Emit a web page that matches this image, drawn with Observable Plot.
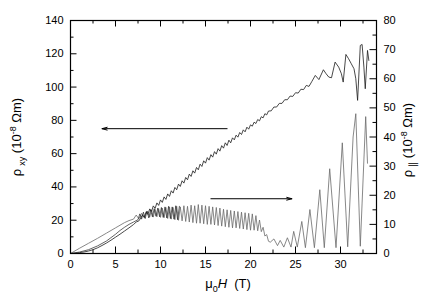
<!DOCTYPE html>
<html><head><meta charset="utf-8">
<script src="https://cdn.jsdelivr.net/npm/d3@7"></script>
<script src="https://cdn.jsdelivr.net/npm/@observablehq/plot@0.6"></script>
<style>body{margin:0;background:#fff;}</style>
</head><body><div id="chart"></div>
<script>
// ---- tick values ----
const xMajor = [0, 5, 10, 15, 20, 25, 30];
const xMinor = [2.5, 7.5, 12.5, 17.5, 22.5, 27.5, 32.5];
const yLeftMajor = [0, 20, 40, 60, 80, 100, 120, 140];
const yLeftMinor = [10, 30, 50, 70, 90, 110, 130];
const yRightMajor = [0, 10, 20, 30, 40, 50, 60, 70, 80];
const yRightMinor = [5, 15, 25, 35, 45, 55, 65, 75];

// ---- rho_xy (left axis, 1e-8 Ohm m) vs mu0 H (T) ----
const fieldXY = [0,0.5,1,1.5,2,2.5,3,3.5,4,4.5,5,5.5,6,6.5,7,7.3,7.6,7.8,
 8.0,8.2,8.4,8.6,8.8,9.0,9.2,9.4,9.6,9.8,10.0,10.2,10.4,10.6,10.8,11.0,11.2,11.4,11.6,11.8,
 12.0,12.2,12.4,12.6,12.8,13.0,13.2,13.4,13.6,13.8,14.0,14.2,14.4,14.6,14.8,15.0,15.2,15.4,15.6,15.8,
 16.0,16.2,16.4,16.6,16.8,17.0,17.2,17.4,17.6,17.8,18.0,18.2,18.4,18.6,18.8,19.0,19.2,19.4,19.6,19.8,
 20.0,20.2,20.4,20.6,20.8,21.0,21.2,21.4,21.6,21.8,22.0,
 22.3,22.6,22.9,23.2,23.5,23.8,24.1,24.4,24.7,25.0,25.3,25.6,25.9,26.2,26.5,26.8,
 27.2,27.6,28.1,28.4,28.7,29.0,29.4,29.8,30.1,30.3,30.6,30.9,31.2,31.5,31.7,31.9,32.2,32.4,32.6,32.75,33.0,33.15];
const rhoXY = [0,0.2,0.5,0.9,1.5,2.3,3.4,4.8,6.3,8.0,9.8,11.6,13.5,15.4,17.4,18.9,19.6,21.3,
 23.2,21.7,25.0,23.5,26.8,25.3,28.6,27.1,30.4,28.9,32.2,30.7,34.0,32.5,35.8,34.3,37.7,36.3,39.7,38.3,
 41.7,40.3,43.7,42.3,45.7,44.3,47.7,46.3,49.7,48.3,51.7,50.3,53.7,52.3,55.7,54.3,57.6,56.1,59.4,57.9,
 61.2,59.7,63.0,61.5,64.8,63.3,66.5,64.9,68.1,66.5,69.5,68.3,71.1,69.9,72.7,71.5,74.3,73.1,75.9,74.7,
 77.3,76.5,78.9,78.1,80.5,79.7,82.2,81.5,84.0,83.3,85.6,
 85.7,88.0,88.0,90.2,90.2,92.4,92.4,94.6,94.4,96.6,96.4,98.7,98.5,101.0,100.4,103.2,
 107,104.5,110.4,108,106,105.6,115,112,108,103,119.6,117,114,111,105,92,125,125.6,112,99,122,116];

// ---- rho_parallel (right axis, 1e-8 Ohm m) vs mu0 H (T), sweep 1 ----
const fieldPar = [0,0.5,1,2,3,4,5,6,6.5,7,7.3,7.6,7.9,8.2,8.5,8.8,
 9.0,9.2,9.4,9.6,9.8,10.0,10.2,10.4,10.6,10.8,11.0,11.2,11.4,11.6,11.8,
 12.0,12.2,12.4,12.6,12.8,13.0,13.2,13.4,13.6,13.8,14.0,14.2,14.4,14.6,14.8,
 15.0,15.2,15.4,15.6,15.8,16.0,16.2,16.4,16.6,16.8,17.0,17.2,17.4,17.6,17.8,
 18.0,18.2,18.4,18.6,18.8,19.0,19.2,19.4,19.6,19.8,20.0,20.2,20.4,20.6,20.8,
 21.0,21.2,21.4,21.6,21.8,22.0,
 22.2,22.6,23.0,23.3,23.7,24.1,24.5,24.8,25.2,25.7,26.1,26.6,27.1,27.7,28.2,28.8,
 29.5,30.2,30.8,31.4,31.7,32.2,32.8,33.0];
const rhoPar = [0,0.9,1.8,3.5,5.2,7.0,8.8,10.6,11.3,11.8,13.2,11.9,13.8,12.3,14.4,12.5,
 15.0,12.5,15.2,12.6,15.4,12.4,15.6,12.3,15.8,12.0,16.0,11.8,15.8,11.6,16.2,
 11.4,16.0,11.2,16.4,11.0,16.2,10.8,16.6,10.6,16.4,10.4,16.8,10.4,16.6,10.2,
 16.4,10.0,16.2,10.0,16.0,9.8,15.8,9.6,15.6,9.4,15.2,9.2,15.0,9.0,14.8,
 8.8,14.6,8.8,14.4,8.6,14.2,8.4,14.0,8.2,13.8,8.0,13.6,8.0,13.0,7.8,
 11.5,7.5,9.0,6.0,6.5,4.2,
 3.9,5.0,2.7,4.5,2.2,5.4,2.2,7.6,2.2,11.0,2.0,15.1,2.0,21.9,2.0,29.1,
 2.0,38.0,2.3,40.0,48.0,2.5,47.0,31.0];

// ---- rho_parallel, sweep 2 (low-field hysteresis loop, up to ~12 T) ----
const fieldPar2 = [0,1,2,3,4,5,5.5,6,6.5,7,7.5,
 7.7,7.9,8.1,8.3,8.5,8.7,8.9,9.1,9.3,9.5,9.7,9.9,10.1,10.3,10.5,10.7,10.9,11.1,11.3,11.5,11.7,11.9,12.1];
const rhoPar2 = [0,0.5,1.3,2.6,4.3,6.6,7.9,9.0,10.0,10.8,11.6,
 13.6,11.8,14.2,12.0,14.6,12.2,15.0,12.6,15.4,12.8,15.6,12.6,15.8,12.4,16.0,12.2,16.2,12.0,16.0,11.8,16.4,11.6,16.2];

// ---- arrows (which axis each curve belongs to) ----
const arrowLeft = {from: 17.4, to: 3.5, level: 75};     // left-axis units
const arrowRight = {from: 15.6, to: 24.6, level: 18.8}; // right-axis units

const ratio = 140 / 80; // right-axis units -> left-axis units

const W = 436, H = 300, mL = 70, mR = 60, mT = 20, mB = 47;
const innerW = W - mL - mR, innerH = H - mT - mB;
const majorLen = 6.5, minorLen = 3.5;

const xyData = fieldXY.map((h, i) => ({h, v: rhoXY[i]}));
const parData = fieldPar.map((h, i) => ({h, v: rhoPar[i] * ratio}));
const par2Data = fieldPar2.map((h, i) => ({h, v: rhoPar2[i] * ratio}));
const arrows = [
  {x1: arrowLeft.from, x2: arrowLeft.to, y: arrowLeft.level},
  {x1: arrowRight.from, x2: arrowRight.to, y: arrowRight.level * ratio}
];

const tickStyle = {stroke: "black", strokeOpacity: 1, strokeWidth: 1};

const svg = Plot.plot({
  width: W, height: H,
  marginLeft: mL, marginRight: mR, marginTop: mT, marginBottom: mB,
  style: {fontFamily: "'Liberation Sans', Arial, Helvetica, sans-serif", fontSize: "11px", background: "white", color: "black"},
  x: {domain: [0, 34]},
  y: {domain: [0, 140]},
  marks: [
    Plot.axisX(xMajor, {anchor: "bottom", tickSize: 0, tickPadding: 7, label: null, fontSize: 11}),
    Plot.axisY(yLeftMajor, {anchor: "left", tickSize: 0, tickPadding: 7, label: null, fontSize: 11}),
    Plot.axisY(yRightMajor.map(v => v * ratio), {anchor: "right", tickSize: 0, tickPadding: 7, label: null, fontSize: 11,
      tickFormat: v => String(Math.round(v / ratio))}),
    Plot.gridX(xMajor, {...tickStyle, insetTop: innerH - majorLen}),
    Plot.gridX(xMinor, {...tickStyle, insetTop: innerH - minorLen}),
    Plot.gridX(xMajor, {...tickStyle, insetBottom: innerH - majorLen}),
    Plot.gridX(xMinor, {...tickStyle, insetBottom: innerH - minorLen}),
    Plot.gridY(yLeftMajor, {...tickStyle, insetRight: innerW - majorLen}),
    Plot.gridY(yLeftMinor, {...tickStyle, insetRight: innerW - minorLen}),
    Plot.gridY(yRightMajor.map(v => v * ratio), {...tickStyle, insetLeft: innerW - majorLen}),
    Plot.gridY(yRightMinor.map(v => v * ratio), {...tickStyle, insetLeft: innerW - minorLen}),
    Plot.line(parData, {x: "h", y: "v", stroke: "#6a6a6a", strokeWidth: 0.8}),
    Plot.line(par2Data, {x: "h", y: "v", stroke: "#222", strokeWidth: 0.7}),
    Plot.line(xyData, {x: "h", y: "v", stroke: "#1a1a1a", strokeWidth: 0.8}),
    Plot.arrow(arrows, {x1: "x1", x2: "x2", y1: "y", y2: "y", stroke: "black", strokeWidth: 1, headLength: 8, headAngle: 30}),
    Plot.frame({stroke: "black", strokeWidth: 1.2})
  ]
});

const s = d3.select(svg);
const fam = "'Liberation Sans', Arial, Helvetica, sans-serif";
function addLabel(x, y, rot, parts) {
  const t = s.append("text")
    .attr("transform", `translate(${x},${y}) rotate(${rot})`)
    .attr("text-anchor", "middle")
    .attr("font-family", fam)
    .attr("font-size", 13)
    .attr("fill", "black");
  for (const p of parts) {
    const ts = t.append("tspan").text(p.t);
    if (p.size) ts.attr("font-size", p.size);
    if (p.dy) ts.attr("dy", p.dy);
    if (p.dx) ts.attr("dx", p.dx);
    if (p.italic) ts.attr("font-style", "italic");
  }
}
addLabel(21, 137, -90, [
  {t: "ρ"}, {t: "xy", size: 9, dy: 4, dx: 3}, {t: " (10", dy: -4},
  {t: "-8", size: 9, dy: -5}, {t: " Ωm)", dy: 5}
]);
addLabel(412, 140, -90, [
  {t: "ρ"}, {t: "∥", size: 10, dy: 4, dx: 3}, {t: " (10", dy: -4},
  {t: "-8", size: 9, dy: -5}, {t: " Ωm)", dy: 5}
]);
addLabel(228, 288, 0, [
  {t: "μ"}, {t: "0", size: 9, dy: 4}, {t: "H", italic: true, dy: -4}, {t: "  (T)"}
]);

document.getElementById("chart").appendChild(svg);
</script>
</body></html>
